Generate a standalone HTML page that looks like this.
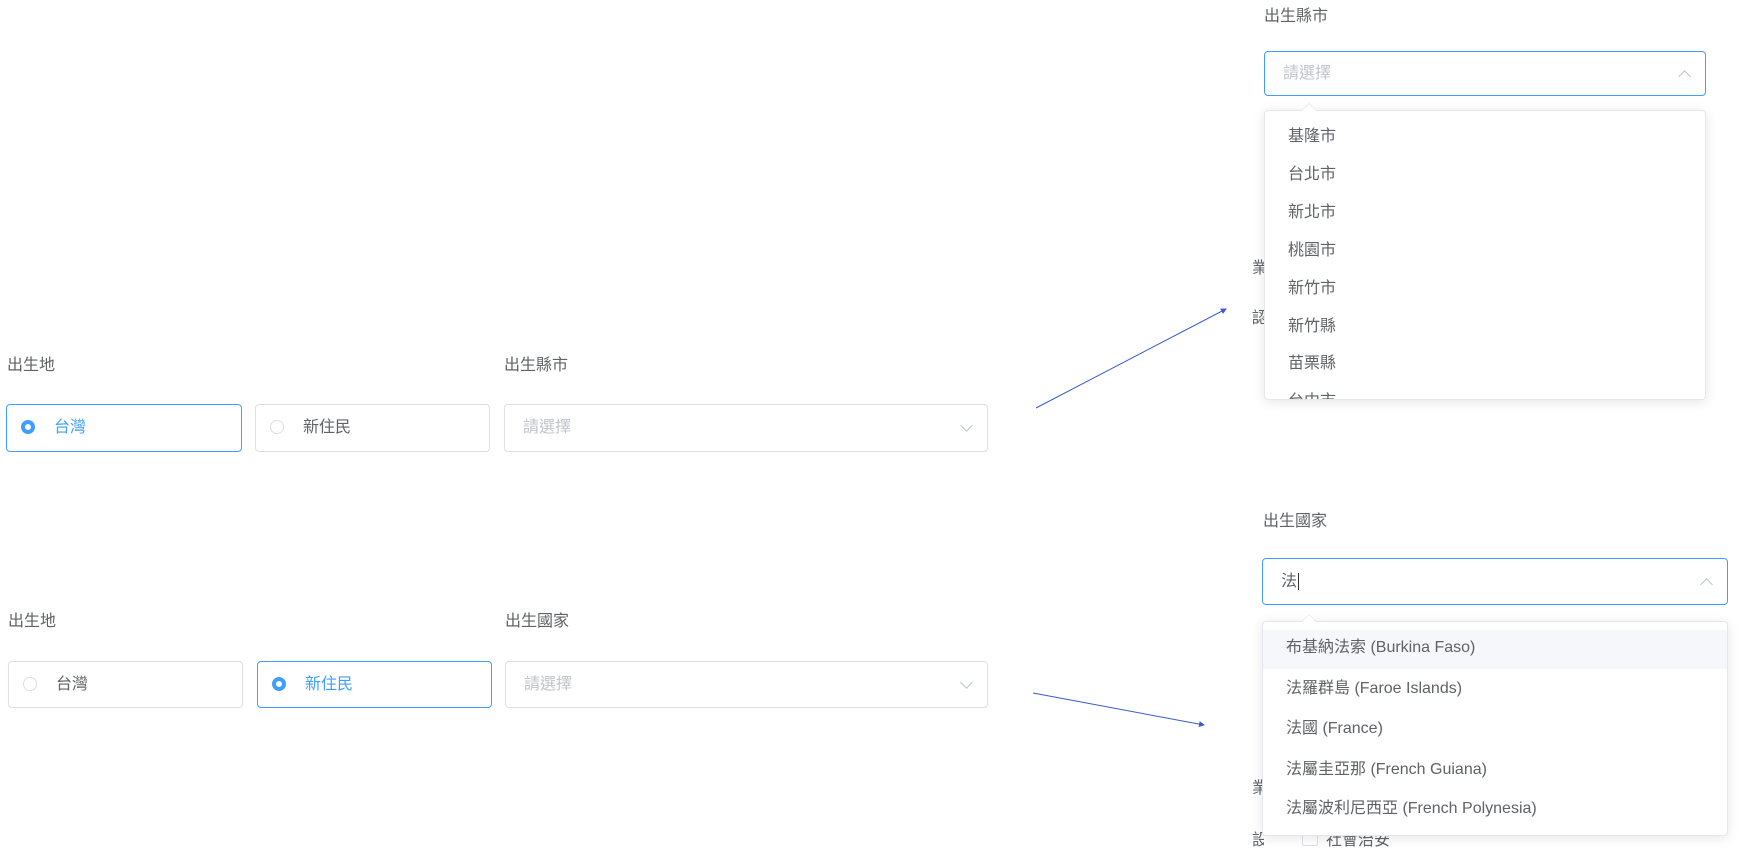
<!DOCTYPE html>
<html><head><meta charset="utf-8"><style>
body{margin:0;width:1748px;height:852px;background:#fff;position:relative;overflow:hidden;font-family:"Liberation Sans","Noto Sans CJK TC",sans-serif;}
.a{position:absolute;}
.lbl{position:absolute;color:#606266;font-size:16px;line-height:20px;}
.box{position:absolute;box-sizing:border-box;border:1px solid #dcdfe6;border-radius:4px;background:#fff;font-size:16px;color:#606266;}
.on{border-color:#409eff;color:#409eff;}
.rad{position:absolute;left:14px;top:50%;margin-top:-8px;width:14px;height:14px;border:1px solid #dcdfe6;border-radius:50%;box-sizing:border-box;}
.on .rad{border:4px solid #409eff;background:#fff;}
.txt{position:absolute;left:47px;top:50%;margin-top:-10px;line-height:20px;}
.ph{position:absolute;left:18px;top:50%;margin-top:-10px;line-height:20px;color:#c0c4cc;}
.chev{position:absolute;right:16px;top:50%;width:8px;height:8px;border-right:1px solid #c0c4cc;border-bottom:1px solid #c0c4cc;margin-top:-7px;transform:rotate(45deg);}
.up{transform:rotate(-135deg);margin-top:-2px;}
.dd{position:absolute;box-sizing:border-box;border:1px solid #e4e7ed;border-radius:4px;background:#fff;box-shadow:0 2px 12px rgba(0,0,0,.1);overflow:hidden;}
.it{position:absolute;left:23px;font-size:16px;color:#606266;line-height:20px;}
.tri{position:absolute;width:0;height:0;border-left:7px solid transparent;border-right:7px solid transparent;border-bottom:7px solid #fff;filter:drop-shadow(0 -1px 0 #e4e7ed);}
</style></head><body>
<div class="lbl" style="left:7px;top:356px">出生地</div>
<div class="lbl" style="left:504px;top:356px">出生縣市</div>
<div class="box on" style="left:6px;top:404px;width:236px;height:48px"><span class="rad"></span><span class="txt">台灣</span></div>
<div class="box" style="left:255px;top:404px;width:235px;height:48px"><span class="rad"></span><span class="txt">新住民</span></div>
<div class="box" style="left:504px;top:404px;width:484px;height:48px"><span class="ph">請選擇</span><span class="chev"></span></div>

<div class="lbl" style="left:8px;top:612px">出生地</div>
<div class="lbl" style="left:505px;top:612px">出生國家</div>
<div class="box" style="left:8px;top:661px;width:235px;height:47px"><span class="rad"></span><span class="txt">台灣</span></div>
<div class="box on" style="left:257px;top:661px;width:235px;height:47px"><span class="rad"></span><span class="txt">新住民</span></div>
<div class="box" style="left:505px;top:661px;width:483px;height:47px"><span class="ph">請選擇</span><span class="chev"></span></div>

<svg class="a" style="left:0;top:0" width="1748" height="852">
<defs><marker id="m" markerWidth="6" markerHeight="6" refX="5" refY="3" orient="auto"><path d="M0,0 L6,3 L0,6z" fill="#3b5bcc"/></marker></defs>
<line x1="1036" y1="408" x2="1226" y2="309" stroke="#3b5bcc" stroke-width="1" marker-end="url(#m)"/>
<line x1="1033" y1="693" x2="1204" y2="725" stroke="#3b5bcc" stroke-width="1" marker-end="url(#m)"/>
</svg>

<div class="a" style="left:1252px;top:254px;font-size:16px;color:#606266;width:12px;overflow:hidden">業</div>
<div class="a" style="left:1252px;top:304px;font-size:16px;color:#606266;width:12px;overflow:hidden">認</div>
<div class="a" style="left:1252px;top:774px;font-size:16px;color:#606266;width:12px;overflow:hidden">業</div>
<div class="a" style="left:1252px;top:826px;font-size:16px;color:#606266;width:12px;overflow:hidden">設</div>
<div class="a" style="left:1302px;top:830px;width:14px;height:14px;border:1px solid #dcdfe6;border-radius:2px"></div>
<div class="a" style="left:1326px;top:826px;font-size:16px;color:#606266">社會治安</div>

<div class="lbl" style="left:1264px;top:7px">出生縣市</div>
<div class="box on" style="left:1264px;top:51px;width:442px;height:45px"><span class="ph">請選擇</span><span class="chev up"></span></div>
<div class="dd" style="left:1264px;top:110px;width:442px;height:290px">
<div class="it" style="top:16px">基隆市</div>
<div class="it" style="top:54px">台北市</div>
<div class="it" style="top:92px">新北市</div>
<div class="it" style="top:130px">桃園市</div>
<div class="it" style="top:168px">新竹市</div>
<div class="it" style="top:206px">新竹縣</div>
<div class="it" style="top:243px">苗栗縣</div>
<div class="it" style="top:281px">台中市</div>
</div>
<div class="tri" style="left:1302px;top:104px"></div>

<div class="lbl" style="left:1263px;top:512px">出生國家</div>
<div class="box on" style="left:1262px;top:558px;width:466px;height:47px"><span class="ph" style="color:#606266">法<span style="border-right:1px solid #333;margin-left:1px"></span></span><span class="chev up"></span></div>
<div class="dd" style="left:1262px;top:621px;width:466px;height:215px">
<div class="a" style="left:0;top:8px;width:100%;height:39px;background:#f5f7fa"></div>
<div class="it" style="top:16px">布基納法索 (Burkina Faso)</div>
<div class="it" style="top:57px">法羅群島 (Faroe Islands)</div>
<div class="it" style="top:97px">法國 (France)</div>
<div class="it" style="top:138px">法屬圭亞那 (French Guiana)</div>
<div class="it" style="top:177px">法屬波利尼西亞 (French Polynesia)</div>
</div>
<div class="tri" style="left:1302px;top:615px"></div>
</body></html>
